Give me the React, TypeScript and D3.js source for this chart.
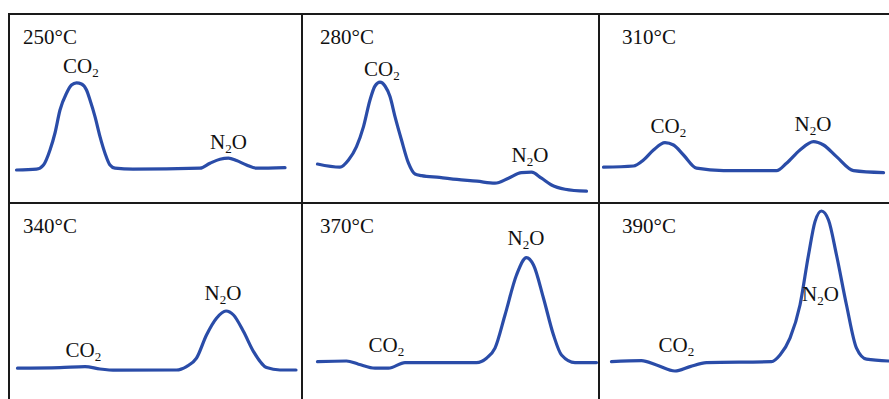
import { useEffect, useRef } from "react";
import * as d3 from "d3";

// retention time (min) / detector signal (mV)
const temps = ["250°C", "280°C", "310°C", "340°C", "370°C", "390°C"];

const t250 = [0.15, 0.55, 0.69, 0.82, 0.92, 1.02, 1.15, 1.25, 1.35, 1.45, 1.55, 1.62, 1.72, 1.82, 1.92, 2.02, 2.12, 2.48, 3.82, 4.02, 4.22, 4.39, 4.55, 4.75, 4.95, 5.52];
const s250 = [12, 12.4, 14.5, 22, 30.5, 42, 50.4, 54.5, 55.6, 55, 52, 47, 38.7, 28.7, 20.4, 14.5, 12.9, 12.4, 12.9, 15.4, 17.4, 17.9, 16.7, 14.5, 12.9, 13.2];

const t280 = [0.31, 0.76, 0.93, 1.09, 1.23, 1.36, 1.46, 1.56, 1.66, 1.76, 1.86, 1.99, 2.13, 2.26, 2.39, 2.75, 3.1, 3.5, 3.86, 4.13, 4.39, 4.59, 4.79, 4.99, 5.26, 5.69];
const s280 = [15, 13.4, 17, 23.7, 33.7, 47, 54, 55.9, 54, 48.7, 38.7, 27, 15.4, 10, 9.2, 8.3, 7.3, 6.4, 5.4, 7.9, 10.7, 10.9, 7.9, 4.5, 2.4, 1.4];

const t310 = [0.09, 0.69, 0.89, 1.09, 1.32, 1.49, 1.69, 1.95, 2.49, 3.55, 3.75, 4.02, 4.29, 4.49, 4.75, 5.09, 5.69];
const s310 = [13.4, 14, 17, 22, 25.7, 24.5, 19.5, 12.9, 11.7, 11.7, 15.4, 22, 26.2, 24.5, 18.7, 11.7, 10.7];

const t340 = [0.17, 1.02, 1.52, 1.82, 2.15, 3.35, 3.55, 3.75, 3.95, 4.15, 4.34, 4.49, 4.69, 4.89, 5.15, 5.42, 5.74];
const s340 = [7.4, 7.7, 8.2, 7, 6.4, 6.5, 8.2, 12.4, 24, 32.4, 36, 34, 25.7, 15.7, 7.7, 6.5, 6.5];

const t370 = [0.31, 0.89, 1.13, 1.46, 1.73, 2.06, 3.49, 3.69, 3.86, 4.06, 4.29, 4.49, 4.63, 4.83, 5.03, 5.19, 5.46, 5.89];
const s370 = [10.7, 11, 9.4, 7.4, 7.4, 10.2, 10.2, 12.4, 17.4, 34, 54, 62.7, 59, 42.4, 24, 14, 10.2, 10.2];

const t390 = [0.25, 0.85, 1.15, 1.52, 1.82, 2.15, 3.45, 3.62, 3.82, 4.02, 4.19, 4.32, 4.45, 4.59, 4.75, 4.95, 5.15, 5.35, 5.79];
const s390 = [10.7, 11.2, 9, 6, 8.2, 10.2, 10.7, 14, 22.4, 39, 64, 80.7, 86, 81.5, 64, 39, 17.4, 11.9, 11];

// peak label anchors (time, signal)
const co2Label = [[1.08, 60.5], [1.24, 59], [1.03, 30.5], [1.13, 12.9], [1.33, 15.4], [1.19, 15.4]];
const n2oLabel = [[4.02, 22.5], [4.19, 16], [3.91, 31.7], [3.91, 41.5], [4.11, 69], [4.06, 41]];

const times = [t250, t280, t310, t340, t370, t390];
const signals = [s250, s280, s310, s340, s370, s390];

const W = 889;
const H = 399;
const colLeft = [9, 302, 599];
const rowTop = [14, 203];
const tempDx = [14, 18, 23];
const font = "'Liberation Serif', 'Times New Roman', serif";
const blue = "#2a4ca8";

export default function App() {
  const ref = useRef<SVGSVGElement>(null);

  useEffect(() => {
    const svg = d3.select(ref.current);
    svg.selectAll("*").remove();

    // grid
    const g = svg.append("g").attr("stroke", "#1a1a1a").attr("stroke-width", 2);
    rowTop.forEach((y) => {
      g.append("line").attr("x1", colLeft[0] - 1).attr("x2", W).attr("y1", y).attr("y2", y);
    });
    colLeft.forEach((x) => {
      g.append("line").attr("x1", x).attr("x2", x).attr("y1", rowTop[0]).attr("y2", H);
    });

    temps.forEach((label, i) => {
      const col = i % 3;
      const row = Math.floor(i / 3);
      const L = colLeft[col];
      const T = rowTop[row];
      const x = d3.scaleLinear().domain([0, 5.9]).range([L, L + 295]);
      const y = d3.scaleLinear().domain([0, 90]).range([T + 180, T]);

      const pts = times[i].map((t, k) => [t, signals[i][k]] as [number, number]);
      const line = d3
        .line<[number, number]>()
        .x((d) => x(d[0]))
        .y((d) => y(d[1]))
        .curve(d3.curveMonotoneX);

      svg
        .append("path")
        .datum(pts)
        .attr("d", line)
        .attr("fill", "none")
        .attr("stroke", blue)
        .attr("stroke-width", 3.2)
        .attr("stroke-linejoin", "round")
        .attr("stroke-linecap", "round");

      svg
        .append("text")
        .attr("x", L + tempDx[col])
        .attr("y", T + 30)
        .attr("font-family", font)
        .attr("font-size", 21)
        .attr("fill", "#111")
        .text(label);

      const co2 = svg
        .append("text")
        .attr("x", x(co2Label[i][0]))
        .attr("y", y(co2Label[i][1]))
        .attr("font-family", font)
        .attr("font-size", 21)
        .attr("fill", "#111");
      co2.append("tspan").text("CO");
      co2.append("tspan").attr("font-size", 13).attr("dy", 4).text("2");

      const n2o = svg
        .append("text")
        .attr("x", x(n2oLabel[i][0]))
        .attr("y", y(n2oLabel[i][1]))
        .attr("font-family", font)
        .attr("font-size", 21)
        .attr("fill", "#111");
      n2o.append("tspan").text("N");
      n2o.append("tspan").attr("font-size", 13).attr("dy", 4).text("2");
      n2o.append("tspan").attr("dy", -4).text("O");
    });
  }, []);

  return (
    <svg
      ref={ref}
      width={W}
      height={H}
      style={{ position: "absolute", left: 0, top: 0, background: "#fff" }}
    />
  );
}
